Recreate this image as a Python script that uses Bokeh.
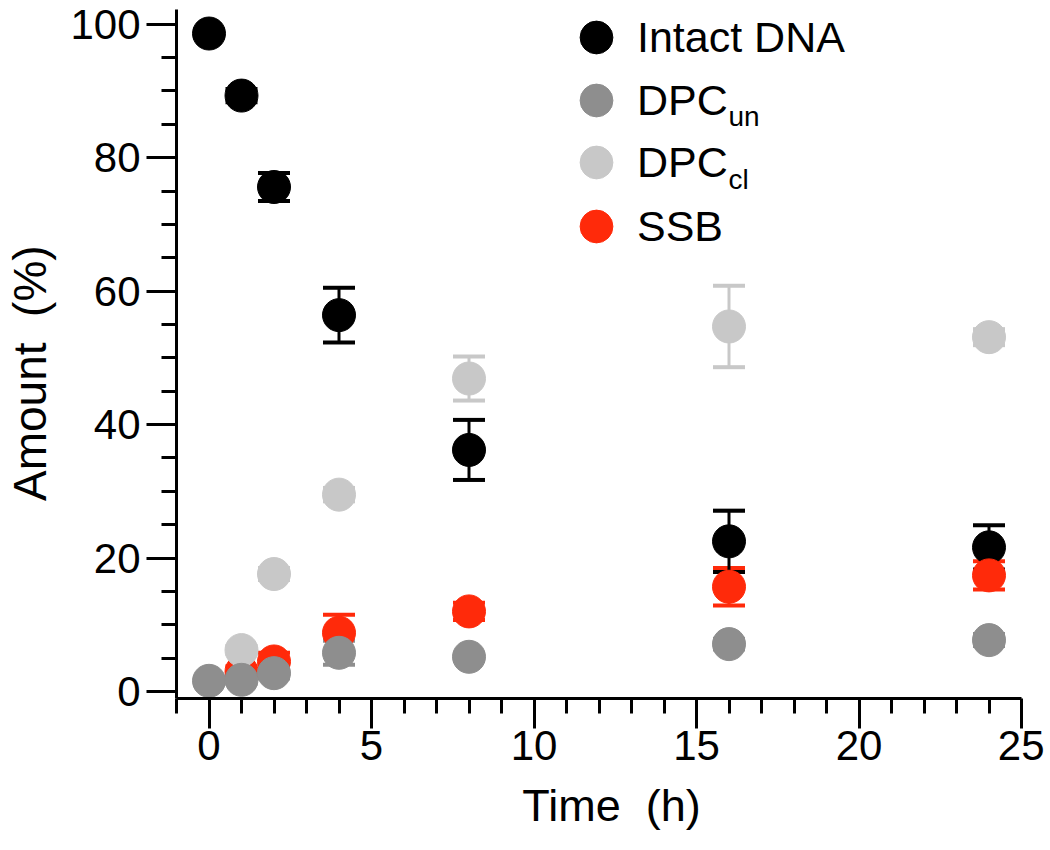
from bokeh.plotting import figure
from bokeh.models import (ColumnDataSource, Range1d, FixedTicker, Whisker, TeeHead,
                          Legend, LegendItem, Label)
from bokeh.embed import file_html
from bokeh.resources import INLINE

# ---- data ----
intact_t = [0, 1, 2, 4, 8, 16, 24]
intact = [98.6, 89.3, 75.6, 56.4, 36.2, 22.5, 21.6]
intact_err = [0.6, 1.0, 2.1, 4.1, 4.5, 4.6, 3.3]

dpc_un_t = [0, 1, 2, 4, 8, 16, 24]
dpc_un = [1.6, 1.75, 2.75, 5.8, 5.2, 7.1, 7.7]
dpc_un_err = [0.5, 0.6, 0.8, 1.8, 0.6, 0.8, 0.9]

dpc_cl_t = [1, 2, 4, 8, 16, 24]
dpc_cl = [6.2, 17.6, 29.5, 46.9, 54.7, 53.1]
dpc_cl_err = [0.6, 0.9, 1.0, 3.3, 6.1, 1.2]

ssb_t = [1, 2, 4, 8, 16, 24]
ssb = [3.0, 4.5, 8.8, 12.0, 15.7, 17.4]
ssb_err = [0.8, 1.3, 2.7, 1.3, 2.8, 2.1]

x_major = [0, 5, 10, 15, 20, 25]
x_minor = [-1, 1, 2, 3, 4, 6, 7, 8, 9, 11, 12, 13, 14, 16, 17, 18, 19, 21, 22, 23, 24]
y_major = [0, 20, 40, 60, 80, 100]
y_minor = [5, 10, 15, 25, 30, 35, 45, 50, 55, 65, 70, 75, 85, 90, 95]

legend_labels = ["Intact DNA", "DPC", "DPC", "SSB"]
legend_subs = ["", "un", "cl", ""]
x_title = "\u00a0\u00a0Time\u00a0 (h)"
y_title = "Amount\u00a0 (%)\u00a0\u00a0\u00a0"

C_BLACK = "#000000"
C_DARK = "#8e8e8e"
C_LIGHT = "#c8c8c8"
C_RED = "#ff2a0a"
FONT = "Liberation Sans"

p = figure(width=1044, height=848, output_backend="svg", toolbar_location=None,
           x_range=Range1d(-1, 25), y_range=Range1d(-1.05, 102.2),
           min_border_left=176, min_border_right=23, min_border_top=9, min_border_bottom=150)
p.outline_line_color = None
p.xgrid.visible = False
p.ygrid.visible = False
p.background_fill_color = "white"
p.border_fill_color = "white"

for ax in (p.xaxis[0], p.yaxis[0]):
    ax.axis_line_width = 3
    ax.axis_line_color = "black"
    ax.major_tick_line_width = 3
    ax.minor_tick_line_width = 3
    ax.major_tick_line_color = "black"
    ax.minor_tick_line_color = "black"
    ax.major_tick_in = 0
    ax.minor_tick_in = 0
    ax.major_tick_out = 30
    ax.minor_tick_out = 15
    ax.major_label_text_font = FONT
    ax.axis_label_text_font = FONT
    ax.axis_label_text_font_style = "normal"
    ax.major_label_text_color = "black"
    ax.axis_label_text_color = "black"

p.xaxis.ticker = FixedTicker(ticks=x_major, minor_ticks=x_minor)
p.yaxis.ticker = FixedTicker(ticks=y_major, minor_ticks=y_minor)
p.xaxis.major_label_text_font_size = "42px"
p.yaxis.major_label_text_font_size = "42px"
p.xaxis.major_label_standoff = 2
p.yaxis.major_label_standoff = 6
p.xaxis.axis_label = x_title
p.xaxis.axis_label_text_font_size = "45px"
p.xaxis.axis_label_standoff = 17
p.yaxis.axis_label = y_title
p.yaxis.axis_label_text_font_size = "46px"
p.yaxis.axis_label_standoff = 11

S = 33
r_black = p.scatter(intact_t, intact, size=S, color=C_BLACK)
r_red = p.scatter(ssb_t, ssb, size=S, color=C_RED)
r_light = p.scatter(dpc_cl_t, dpc_cl, size=S, color=C_LIGHT)
r_dark = p.scatter(dpc_un_t, dpc_un, size=S, color=C_DARK)


def add_err(t, v, e, color):
    src = ColumnDataSource(dict(x=t, upper=[a + b for a, b in zip(v, e)],
                                lower=[a - b for a, b in zip(v, e)]))
    w = Whisker(source=src, base="x", upper="upper", lower="lower", dimension="height",
                line_color=color, line_width=3,
                upper_head=TeeHead(size=32, line_color=color, line_width=4),
                lower_head=TeeHead(size=32, line_color=color, line_width=4))
    p.add_layout(w)


add_err(dpc_cl_t, dpc_cl, dpc_cl_err, C_LIGHT)
add_err(dpc_un_t, dpc_un, dpc_un_err, C_DARK)
add_err(ssb_t, ssb, ssb_err, C_RED)
add_err(intact_t, intact, intact_err, C_BLACK)

# one single-row legend per entry, so that rows can sit closer than the glyph box
renderers = [r_black, r_dark, r_light, r_red]
row_y = [620, 557, 495, 431]
for lab, r, vy in zip(legend_labels, renderers, row_y):
    lg = Legend(items=[LegendItem(label=lab, renderers=[r])],
                location=(379, vy), glyph_width=82, glyph_height=82,
                padding=0, margin=0, label_standoff=0,
                label_text_font_size="43px", label_text_font=FONT,
                label_text_color="black",
                border_line_color=None, background_fill_alpha=0)
    p.add_layout(lg)

sub_y = [None, 582, 519, None]
for s, sy in zip(legend_subs, sub_y):
    if s:
        p.add_layout(Label(x=552, y=sy, x_units="screen", y_units="screen", text=s,
                           text_font_size="28px", text_font=FONT,
                           text_baseline="alphabetic", text_color="black"))

open("out.html", "w").write(file_html(p, INLINE))
